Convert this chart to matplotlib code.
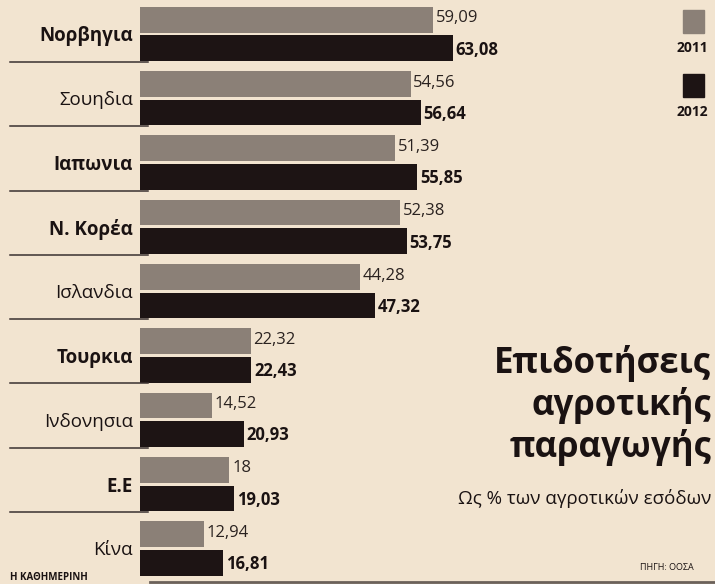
import matplotlib
matplotlib.use('Agg')
import matplotlib.pyplot as plt
from matplotlib.patches import Rectangle
from matplotlib.lines import Line2D
from matplotlib.transforms import blended_transform_factory

plt.rcParams['font.family'] = ['Open Sans', 'DejaVu Sans']

# data
countries = ['Νορβηγια', 'Σουηδια', 'Ιαπωνια', 'Ν. Κορέα', 'Ισλανδια',
             'Τουρκια', 'Ινδονησια', 'Ε.Ε', 'Κίνα']
bold_rows = [True, False, True, True, False, True, False, True, False]
vals_2011 = [59.09, 54.56, 51.39, 52.38, 44.28, 22.32, 14.52, 18, 12.94]
vals_2012 = [63.08, 56.64, 55.85, 53.75, 47.32, 22.43, 20.93, 19.03, 16.81]
years = ['2011', '2012']

BG = '#f2e4d0'
C2011 = '#8b8077'
C2012 = '#1d1414'
INK = '#1a1212'

W, H = 715, 584
fig = plt.figure(figsize=(W / 100, H / 100), dpi=100, facecolor=BG)

# axes: value 0 at x=140px, ~4.96 px per unit; rows 64.3 px apart
x0 = 140
ppu = 4.96
pitch = 64.3
ax = fig.add_axes([x0 / W, 0, (W - x0) / W, 1])
ax.set_facecolor('none')
ax.set_xlim(0, (W - x0) / ppu)
top = -34 / pitch
ax.set_ylim(top + H / pitch, top)

rows = list(range(len(countries)))
off = 0.222
bh = 0.40
ax.barh([r - off for r in rows], vals_2011, height=bh, color=C2011)
ax.barh([r + off for r in rows], vals_2012, height=bh, color=C2012)


def fmt(v):
    return f'{v:g}'.replace('.', ',')


for r, v in zip(rows, vals_2011):
    ax.annotate(fmt(v), (v, r - off), xytext=(2, 1), textcoords='offset points',
                va='center', ha='left', fontsize=12, color='#2a2220')
for r, v in zip(rows, vals_2012):
    ax.annotate(fmt(v), (v, r + off), xytext=(2, -1), textcoords='offset points',
                va='center', ha='left', fontsize=12, fontweight='bold', color=INK)

ax.set_yticks(rows)
ax.set_yticklabels(countries, fontsize=13.5, color=INK)
for lab, b in zip(ax.get_yticklabels(), bold_rows):
    lab.set_fontweight('bold' if b else 'normal')
ax.tick_params(axis='y', length=0, pad=5)
ax.set_xticks([])
for s in ax.spines.values():
    s.set_visible(False)

# separators under each row label
trans = blended_transform_factory(ax.transAxes, ax.transData)
xa = -130 / (W - x0)
xb = 8 / (W - x0)
for r in rows[:-1]:
    ax.plot([xa, xb], [r + 0.435, r + 0.435], transform=trans, color='#3a3030',
            lw=1.1, clip_on=False)

# legend on the right
for i, (yr, c) in enumerate(zip(years, [C2011, C2012])):
    ytop = 10 + i * 64
    fig.add_artist(Rectangle((683 / W, 1 - (ytop + 23) / H), 21 / W, 23 / H,
                             transform=fig.transFigure, color=c))
    fig.text(692 / W, 1 - (ytop + 38) / H, yr, ha='center', va='center',
             fontsize=10, fontweight='bold', color=INK)

# title block
for i, line in enumerate(['Επιδοτήσεις', 'αγροτικής', 'παραγωγής']):
    fig.text(711 / W, 1 - (364 + i * 42) / H, line, ha='right', va='center',
             fontsize=25, fontweight='bold', color=INK)
fig.text(711 / W, 1 - 498 / H, 'Ως % των αγροτικών εσόδων', ha='right',
         va='center', fontsize=13.5, color=INK)
fig.text(640 / W, 1 - 568 / H, 'ΠΗΓΗ: ΟΟΣΑ', ha='left', va='center',
         fontsize=6.5, color=INK)
fig.text(10 / W, 1 - 578 / H, 'Η ΚΑΘΗΜΕΡΙΝΗ', ha='left', va='center',
         fontsize=7, fontweight='bold', color=INK)
fig.add_artist(Line2D([150 / W, 1], [1 - 582 / H, 1 - 582 / H],
                      transform=fig.transFigure, color='#6b615a', lw=2))

fig.savefig('out.png', dpi=100, facecolor=BG)
